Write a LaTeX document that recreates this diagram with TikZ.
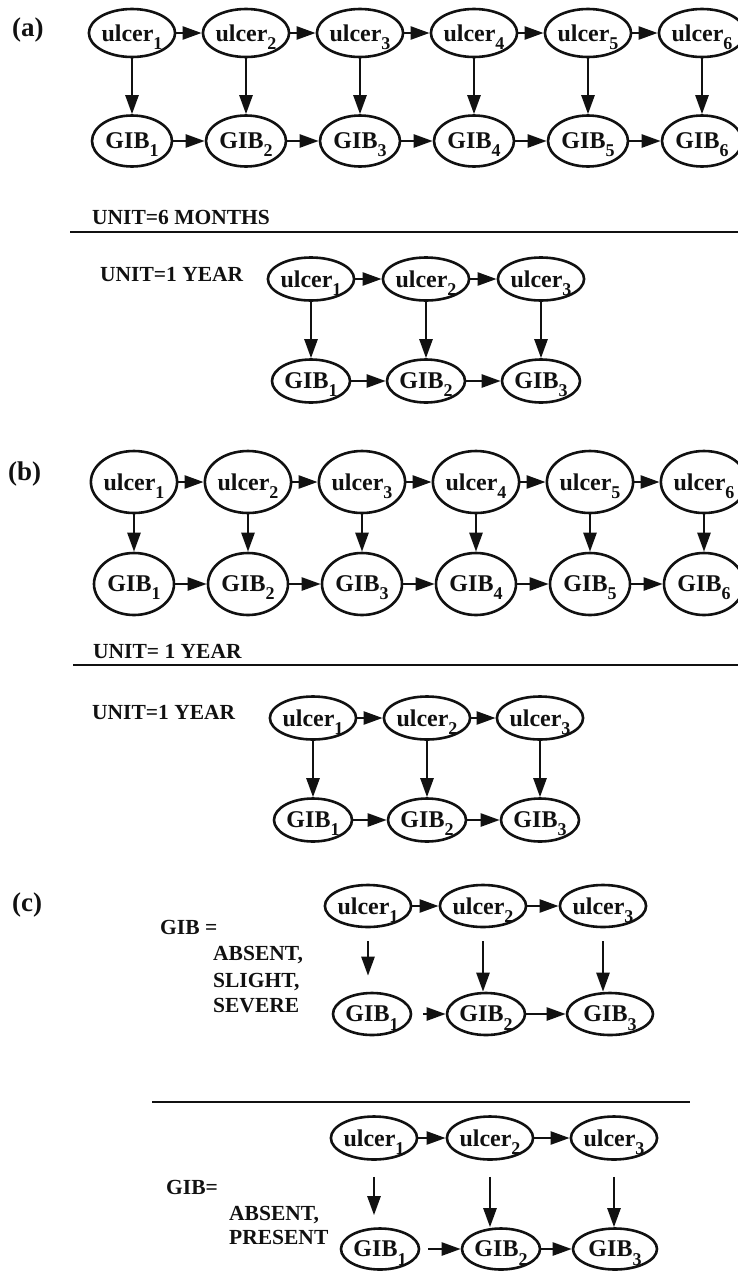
\documentclass[tikz,border=0pt]{standalone}
\usepackage{fontspec}
\setmainfont{Liberation Serif}
\usepackage{tikz}
\usetikzlibrary{arrows.meta,shapes.geometric}
\definecolor{ink}{HTML}{111111}
\newcommand{\idx}[1]{\raisebox{-0.34em}[0pt][0pt]{\fontsize{18}{18}\selectfont#1}}
\tikzset{
  unode/.style={ellipse,draw=ink,line width=2.6pt,minimum width=80pt,
    minimum height=48pt,inner sep=0pt,text=ink,
    font=\fontsize{24}{24}\selectfont\bfseries},
  bnode/.style={unode,minimum height=62pt},
  snode/.style={unode,minimum width=78pt,minimum height=43pt},
  arr/.style={-{Triangle[length=19pt,width=13pt]},line width=2.5pt,color=ink},
  lbl/.style={anchor=base west,inner sep=0pt,text=ink,
    font=\fontsize{21.5}{22}\selectfont\bfseries},
  tag/.style={anchor=west,inner sep=0pt,text=ink,
    font=\fontsize{27}{27}\selectfont\bfseries},
  rule/.style={line width=2.6pt,color=ink},
}

\begin{document}
\begin{tikzpicture}[x=1pt,y=-1pt]
  \useasboundingbox (0,0) rectangle (738,1272);

  % (a) unit = 6 months
  \node[tag] (taga) at (12,30) {(a)};
  \foreach \i/\xx in {1/132,2/246,3/360,4/474,5/588,6/702} {
    \node[unode] (au\i) at (\xx,33) {ulcer\idx{\i}};
    \node[unode,minimum height=51pt] (ag\i) at (\xx,141) {GIB\idx{\i}};
    \draw[arr] (au\i) -- (ag\i);
  }
  \foreach \i [count=\j from 2] in {1,...,5} {
    \draw[arr] (au\i) -- (au\j);
    \draw[arr] (ag\i) -- (ag\j);
  }
  \node[lbl] (unita) at (92,224) {UNIT=6 MONTHS};
  \coordinate (rla) at (70,232);
  \coordinate (rra) at (738,232);
  \draw[rule] (rla) -- (rra);

  \node[lbl] (unitas) at (100,281) {UNIT=1 YEAR};
  \foreach \i/\xx in {1/311,2/426,3/541} {
    \node[snode] (asu\i) at (\xx,279) {ulcer\idx{\i}};
    \node[snode] (asg\i) at (\xx,381) {GIB\idx{\i}};
    \draw[arr] (asu\i) -- (asg\i);
  }
  \foreach \i [count=\j from 2] in {1,2} {
    \draw[arr] (asu\i) -- (asu\j);
    \draw[arr] (asg\i) -- (asg\j);
  }

  % (b) unit = 1 year
  \node[tag] (tagb) at (8,474) {(b)};
  \foreach \i/\xx in {1/134,2/248,3/362,4/476,5/590,6/704} {
    \node[bnode] (bu\i) at (\xx,482) {ulcer\idx{\i}};
    \node[bnode] (bg\i) at (\xx,584) {GIB\idx{\i}};
    \draw[arr] (bu\i) -- (bg\i);
  }
  \foreach \i [count=\j from 2] in {1,...,5} {
    \draw[arr] (bu\i) -- (bu\j);
    \draw[arr] (bg\i) -- (bg\j);
  }
  \node[lbl] (unitb) at (93,658) {UNIT= 1 YEAR};
  \coordinate (rlb) at (73,665);
  \coordinate (rrb) at (738,665);
  \draw[rule] (rlb) -- (rrb);

  \node[lbl] (unitbs) at (92,719) {UNIT=1 YEAR};
  \foreach \i/\xx in {1/313,2/427,3/540} {
    \node[snode] (bsu\i) at (\xx,718) {ulcer\idx{\i}};
    \node[snode] (bsg\i) at (\xx,820) {GIB\idx{\i}};
    \draw[arr] (bsu\i) -- (bsg\i);
  }
  \foreach \i [count=\j from 2] in {1,2} {
    \draw[arr] (bsu\i) -- (bsu\j);
    \draw[arr] (bsg\i) -- (bsg\j);
  }

  % (c) three states vs two states
  \node[tag] (tagc) at (12,905) {(c)};
  \node[lbl] (gibc) at (160,934) {GIB =};
  \node[lbl] (c1a) at (213,960) {ABSENT,};
  \node[lbl] (c1b) at (213,987) {SLIGHT,};
  \node[lbl] (c1c) at (213,1012) {SEVERE};
  \node[snode,minimum height=42pt] (cu1) at (368,906) {ulcer\idx{1}};
  \node[snode,minimum height=42pt] (cu2) at (483,906) {ulcer\idx{2}};
  \node[snode,minimum height=42pt,minimum width=86pt] (cu3) at (603,906) {ulcer\idx{3}};
  \node[snode,minimum height=42pt] (cg1) at (372,1014) {GIB\idx{1}};
  \node[snode,minimum height=42pt] (cg2) at (486,1014) {GIB\idx{2}};
  \node[snode,minimum height=42pt,minimum width=86pt] (cg3) at (610,1014) {GIB\idx{3}};
  \draw[arr] (cu1) -- (cu2);
  \draw[arr] (cu2) -- (cu3);
  \draw[arr,shorten <=11pt] (cg1) -- (cg2);
  \draw[arr] (cg2) -- (cg3);
  \draw[arr,shorten <=13pt,shorten >=16pt] (cu1.south) -- (cu1.south |- cg1.north);
  \draw[arr,shorten <=13pt] (cu2.south) -- (cu2.south |- cg2.north);
  \draw[arr,shorten <=13pt] (cu3.south) -- (cu3.south |- cg3.north);

  \coordinate (rlc) at (152,1102);
  \coordinate (rrc) at (690,1102);
  \draw[rule] (rlc) -- (rrc);

  \node[lbl] (gibd) at (166,1194) {GIB=};
  \node[lbl] (c2a) at (229,1220) {ABSENT,};
  \node[lbl] (c2b) at (229,1244) {PRESENT};
  \node[snode] (du1) at (374,1138) {ulcer\idx{1}};
  \node[snode] (du2) at (490,1138) {ulcer\idx{2}};
  \node[snode,minimum width=84pt] (du3) at (614,1138) {ulcer\idx{3}};
  \node[snode,minimum height=41pt] (dg1) at (380,1249) {GIB\idx{1}};
  \node[snode,minimum height=41pt] (dg2) at (501,1249) {GIB\idx{2}};
  \node[snode,minimum height=41pt,minimum width=84pt] (dg3) at (615,1249) {GIB\idx{3}};
  \draw[arr] (du1) -- (du2);
  \draw[arr] (du2) -- (du3);
  \draw[arr,shorten <=8pt] (dg1) -- (dg2);
  \draw[arr] (dg2) -- (dg3);
  \draw[arr,shorten <=16pt,shorten >=12pt] (du1.south) -- (du1.south |- dg1.north);
  \draw[arr,shorten <=16pt] (du2.south) -- (du2.south |- dg2.north);
  \draw[arr,shorten <=16pt] (du3.south) -- (du3.south |- dg3.north);
\end{tikzpicture}
\end{document}
